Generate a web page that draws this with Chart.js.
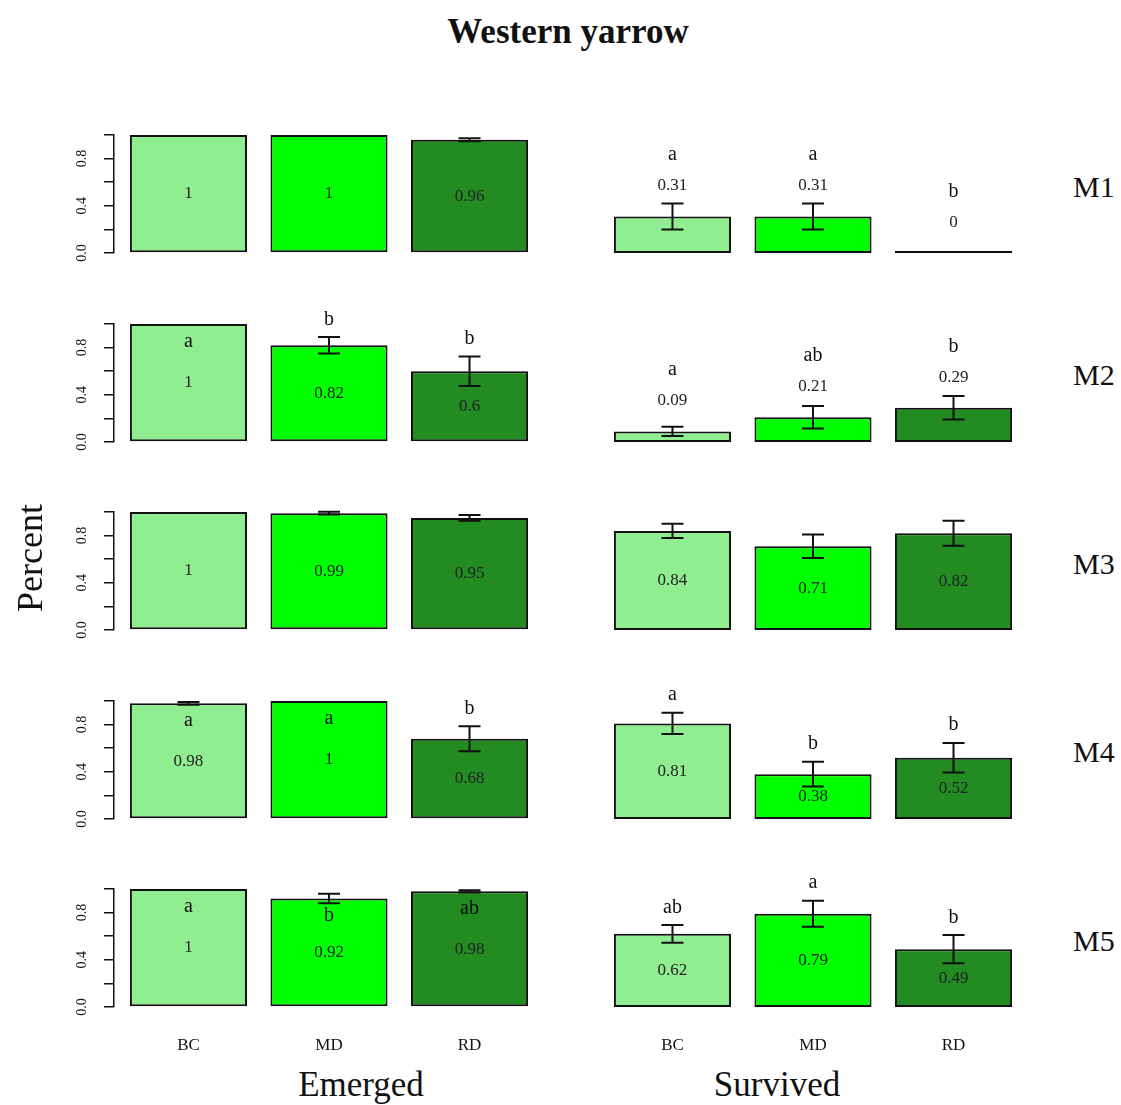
<!DOCTYPE html>
<html>
<head>
<meta charset="utf-8">
<title>Western yarrow</title>
<script src="https://cdn.jsdelivr.net/npm/chart.js@4.4.1/dist/chart.umd.min.js"></script>
<style>
  html, body { margin: 0; padding: 0; background: #fff; }
  #page { position: relative; width: 1121px; height: 1105px; overflow: hidden;
          font-family: "Liberation Serif", "DejaVu Serif", serif; color: #111; }
  #page canvas { position: absolute; }
  .txt { position: absolute; white-space: nowrap; line-height: 1; }
</style>
</head>
<body>
<div id="page"></div>
<script>
// ====== Data ======
const categories = ['BC', 'MD', 'RD'];
const groups = ['M1', 'M2', 'M3', 'M4', 'M5'];
const yTicks = [0, 0.2, 0.4, 0.6, 0.8, 1.0];
const yTickLabels = ['0.0', '', '0.4', '', '0.8', ''];

// Emerged (left column), one row per group
const emergedMean = [
    [1, 1, 0.96],
    [1, 0.82, 0.6],
    [1, 0.99, 0.95],
    [0.98, 1, 0.68],
    [1, 0.92, 0.98]
];
const emergedSE = [
    [0, 0, 0.012],
    [0, 0.07, 0.125],
    [0, 0.012, 0.025],
    [0.012, 0, 0.105],
    [0, 0.04, 0.01]
];
const emergedLetters = [
    ['', '', ''],
    ['a', 'b', 'b'],
    ['', '', ''],
    ['a', 'a', 'b'],
    ['a', 'b', 'ab']
];

// Survived (right column)
const survivedMean = [
    [0.31, 0.31, 0],
    [0.09, 0.21, 0.29],
    [0.84, 0.71, 0.82],
    [0.81, 0.38, 0.52],
    [0.62, 0.79, 0.49]
];
const survivedSE = [
    [0.11, 0.11, 0],
    [0.04, 0.095, 0.1],
    [0.06, 0.1, 0.105],
    [0.09, 0.105, 0.125],
    [0.075, 0.11, 0.12]
];
const survivedLetters = [
    ['a', 'a', 'b'],
    ['a', 'ab', 'b'],
    ['', '', ''],
    ['a', 'b', 'b'],
    ['ab', 'a', 'b']
];

// ====== Styles / layout ======
const barColors = ['#90EE90', '#00FF00', '#228B22'];
const SERIF = '"Liberation Serif", "DejaVu Serif", serif';
const ROW0_BASE = 253;
const ROW_PITCH = 188.5;
const PLOT_H = 118;
const PAD_TOP = 70;
const PAD_BOTTOM = 14;
const XAXIS_H = 50;

// R barplot positions: width 1, space 0.2
const barPositions = categories.map((c, i) => 0.7 + 1.2 * i);

Chart.defaults.font.family = SERIF;

const page = document.getElementById('page');

function addText(str, x, baseline, size, extra = {}) {
    const el = document.createElement('div');
    el.className = 'txt';
    el.textContent = str;
    el.style.fontSize = size + 'px';
    el.style.left = x + 'px';
    el.style.top = (baseline - 0.8375 * size) + 'px';
    if (extra.bold) el.style.fontWeight = 'bold';
    if (extra.center) el.style.transform = 'translateX(-50%)';
    page.appendChild(el);
    return el;
}

// error bars, value labels and letters, placed through the y scale
function marksPlugin(mean, se, letters) {
    return {
        id: 'panelMarks',
        afterDatasetsDraw(chart) {
            const { ctx } = chart;
            const y = chart.scales.y;
            const meta = chart.getDatasetMeta(0);
            ctx.save();
            meta.data.forEach((bar, i) => {
                const v = mean[i];
                const e = se[i];
                if (e > 0) {
                    const hi = y.getPixelForValue(v + e);
                    const lo = y.getPixelForValue(v - e);
                    ctx.strokeStyle = '#111';
                    ctx.lineWidth = 2;
                    ctx.beginPath();
                    ctx.moveTo(bar.x, hi); ctx.lineTo(bar.x, lo);
                    ctx.moveTo(bar.x - 11, hi); ctx.lineTo(bar.x + 11, hi);
                    ctx.moveTo(bar.x - 11, lo); ctx.lineTo(bar.x + 11, lo);
                    ctx.stroke();
                }
                const small = v < 0.35;
                const valueAt = small ? v + 0.26 : v / 2;
                ctx.fillStyle = '#222';
                ctx.textAlign = 'center';
                ctx.textBaseline = 'middle';
                ctx.font = '17px ' + SERIF;
                ctx.fillText(String(v), bar.x, y.getPixelForValue(valueAt));

                const letter = letters[i];
                if (letter) {
                    let at = small ? valueAt + 0.26 : v + e + 0.15;
                    if (!small && at > 1.08) at = v - 0.15;
                    ctx.fillStyle = '#111';
                    ctx.font = '20px ' + SERIF;
                    ctx.fillText(letter, bar.x, y.getPixelForValue(at));
                }
            });
            ctx.restore();
        }
    };
}

// rotated y tick labels (R style, reading upward)
const yLabelsPlugin = {
    id: 'yLabels',
    afterDraw(chart) {
        const { ctx } = chart;
        const y = chart.scales.y;
        ctx.save();
        ctx.fillStyle = '#111';
        ctx.font = '14px ' + SERIF;
        ctx.textAlign = 'center';
        ctx.textBaseline = 'middle';
        y.ticks.forEach((t, i) => {
            const label = yTickLabels[i];
            if (!label) return;
            ctx.save();
            ctx.translate(chart.chartArea.left - 32, y.getPixelForValue(t.value));
            ctx.rotate(-Math.PI / 2);
            ctx.fillText(label, 0, 0);
            ctx.restore();
        });
        ctx.restore();
    }
};

function makePanel(col, row) {
    const isLeft = col === 0;
    const isBottom = row === groups.length - 1;
    const mean = isLeft ? emergedMean[row] : survivedMean[row];
    const se = isLeft ? emergedSE[row] : survivedSE[row];
    const letters = isLeft ? emergedLetters[row] : survivedLetters[row];

    const base = ROW0_BASE + ROW_PITCH * row;
    const top = base - PLOT_H - PAD_TOP;
    const height = PAD_TOP + PLOT_H + (isBottom ? XAXIS_H : PAD_BOTTOM);
    const left = isLeft ? 60 : 580;
    const width = isLeft ? 500 : 470;

    const canvas = document.createElement('canvas');
    canvas.width = width;
    canvas.height = height;
    canvas.style.left = left + 'px';
    canvas.style.top = top + 'px';
    page.appendChild(canvas);

    const plugins = [marksPlugin(mean, se, letters)];
    if (isLeft) plugins.push(yLabelsPlugin);

    return new Chart(canvas, {
        type: 'bar',
        data: {
            datasets: [{
                data: mean.map((v, i) => ({ x: barPositions[i], y: v })),
                backgroundColor: barColors,
                borderColor: '#111',
                borderWidth: 2,
                borderSkipped: false,
                minBarLength: 2,
                barPercentage: 1 / 1.2,
                categoryPercentage: 1
            }]
        },
        options: {
            responsive: false,
            animation: false,
            events: [],
            layout: {
                padding: {
                    top: PAD_TOP,
                    bottom: isBottom ? 0 : PAD_BOTTOM,
                    left: isLeft ? 10 : 18,
                    right: isLeft ? 16 : 22
                }
            },
            plugins: {
                legend: { display: false },
                tooltip: { enabled: false }
            },
            scales: {
                x: {
                    type: 'linear',
                    min: 0.064,
                    max: 3.736,
                    offset: false,
                    display: isBottom,
                    afterBuildTicks: (axis) => { axis.ticks = barPositions.map(v => ({ value: v })); },
                    afterFit: (axis) => { axis.height = isBottom ? XAXIS_H : 0; },
                    grid: { display: false, drawTicks: false, offset: false },
                    border: { display: false },
                    ticks: {
                        autoSkip: false,
                        maxRotation: 0,
                        padding: 28,
                        color: '#111',
                        font: { size: 17 },
                        callback: (value, index) => categories[index]
                    }
                },
                y: {
                    min: 0,
                    max: 1,
                    display: isLeft,
                    afterBuildTicks: (axis) => { axis.ticks = yTicks.map(v => ({ value: v })); },
                    afterFit: (axis) => { axis.width = isLeft ? 44 : 0; },
                    grid: {
                        drawOnChartArea: false,
                        drawTicks: true,
                        tickLength: 10,
                        color: '#111',
                        lineWidth: 1.5
                    },
                    border: { display: true, color: '#111', width: 1.5 },
                    ticks: { display: false }
                }
            }
        },
        plugins
    });
}

// ====== Build ======
for (let r = 0; r < groups.length; r++) {
    makePanel(0, r);
    makePanel(1, r);
    addText(groups[r], 1073, ROW0_BASE + ROW_PITCH * r - 56, 30);
}

addText('Western yarrow', 568, 43, 35, { bold: true, center: true });
addText('Emerged', 361, 1096, 35, { center: true });
addText('Survived', 777, 1096, 35, { center: true });

const yTitle = document.createElement('div');
yTitle.className = 'txt';
yTitle.textContent = 'Percent';
yTitle.style.fontSize = '36px';
yTitle.style.left = '30px';
yTitle.style.top = '558px';
yTitle.style.transform = 'translate(-50%, -50%) rotate(-90deg)';
page.appendChild(yTitle);
</script>
</body>
</html>
